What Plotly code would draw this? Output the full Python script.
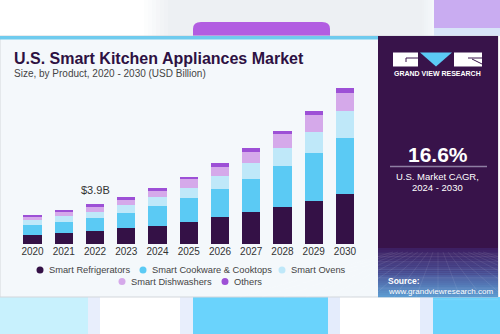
import plotly.graph_objects as go

# ---------------- data ----------------
years = ["2020", "2021", "2022", "2023", "2024", "2025", "2026", "2027", "2028", "2029", "2030"]
refrigerators = [0.94, 1.10, 1.30, 1.56, 1.82, 2.18, 2.63, 3.12, 3.67, 4.19, 4.94]
cookware = [0.91, 1.07, 1.30, 1.53, 1.88, 2.31, 2.73, 3.22, 3.93, 4.68, 5.46]
ovens = [0.49, 0.55, 0.58, 0.71, 0.88, 1.01, 1.30, 1.56, 1.79, 2.11, 2.60]
dishwashers = [0.36, 0.42, 0.49, 0.55, 0.62, 0.84, 0.91, 1.14, 1.33, 1.59, 1.79]
others = [0.13, 0.16, 0.23, 0.26, 0.26, 0.26, 0.36, 0.32, 0.36, 0.42, 0.45]
series_names = ["Smart Refrigerators", "Smart Cookware & Cooktops", "Smart Ovens",
                "Smart Dishwashers", "Others"]
series_values = [refrigerators, cookware, ovens, dishwashers, others]
series_colors = ["#341146", "#5bcaf4", "#bfe8f9", "#d5a9ea", "#9d50d6"]
callout_year = "2022"
callout_text = "$3.9B"

W, H = 500, 334
FONT = "Liberation Sans, Arial, sans-serif"


def X(px):
    return px / W


def Y(py):
    return 1 - py / H


shapes = []
annotations = []


def rect(x0, y0, x1, y1, color, layer="below", line=None):
    shapes.append(dict(type="rect", xref="paper", yref="paper", x0=X(x0), x1=X(x1),
                       y0=Y(y1), y1=Y(y0), fillcolor=color, layer=layer,
                       line=line or dict(width=0)))


def seg(x0, y0, x1, y1, color, width=1, layer="below"):
    shapes.append(dict(type="line", xref="paper", yref="paper", x0=X(x0), x1=X(x1),
                       y0=Y(y0), y1=Y(y1), line=dict(color=color, width=width), layer=layer))


def text(x, y, s, size, color, bold=False, xanchor="left", family=FONT):
    annotations.append(dict(x=X(x), y=Y(y), xref="paper", yref="paper", text=s,
                            showarrow=False, xanchor=xanchor, yanchor="middle",
                            font=dict(size=size, color=color, family=family,
                                      weight="bold" if bold else "normal")))


def mix(c1, c2, t):
    a = [int(c1[i:i + 2], 16) for i in (1, 3, 5)]
    b = [int(c2[i:i + 2], 16) for i in (1, 3, 5)]
    return "#%02x%02x%02x" % tuple(round(a[k] + (b[k] - a[k]) * t) for k in range(3))


# ---------------- blurred background around the card ----------------
rect(0, 0, 500, 36, "#ffffff")
for i in range(8):
    t = i / 7
    rect(140 + i * 4, 0, 144 + i * 4, 36, mix("#ffffff", "#edf0f3", t))
rect(172, 0, 420, 36, "#edf0f3")
for i in range(8):
    t = i / 7
    rect(420 + i * 2, 0, 422 + i * 2, 36, mix("#edf0f3", "#f5f9fc", t))
rect(434, 0, 500, 28, "#c9acf1")
rect(434, 28, 500, 36, "#d8e4f8")
shapes.append(dict(type="path", xref="paper", yref="paper", layer="below",
                   path="M %f,%f L %f,%f Q %f,%f %f,%f L %f,%f Q %f,%f %f,%f L %f,%f Z" % (
                       X(193), Y(36), X(193), Y(29), X(193), Y(22), X(201), Y(22),
                       X(322), Y(22), X(330), Y(22), X(330), Y(29), X(330), Y(36)),
                   fillcolor="#b25de1", line=dict(width=0)))

rect(0, 297, 500, 334, "#ffffff")
rect(0, 297, 88, 334, "#c8f1fd")
rect(88, 297, 100, 334, "#e8eefc")
rect(180, 297, 193, 334, "#e8eefc")
rect(193, 297, 328, 334, "#6ad3fc")
rect(328, 297, 340, 334, "#e4ecfc")
rect(420, 297, 433, 334, "#e4ecfc")
rect(433, 297, 500, 334, "#6ad3fc")

# ---------------- card ----------------
rect(0, 36, 498, 297, "#f4f8fb", line=dict(color="#d3d7db", width=1))
rect(0, 36, 378, 39.5, "#6fcbee")

# right panel
rect(378, 36, 498, 297, "#38134a")
band_top, band_bot = 248, 297
n = 24
for i in range(n):
    t = i / (n - 1)
    c = mix("#3d1f62", "#4a4d93", min(1, t * 2.2)) if t < 0.45 else mix("#4a4d93", "#5c9ad0", (t - 0.45) / 0.55)
    y0 = band_top + (band_bot - band_top) * i / n
    y1 = band_top + (band_bot - band_top) * (i + 1) / n
    rect(378, y0, 498, y1 + 0.3, c)
# perspective grid
for k in range(7):
    yy = 254 + (k ** 1.6) * 2.6
    seg(378, yy, 498, yy, "rgba(255,255,255,0.13)", 0.7)
for k in range(-9, 10):
    seg(438 + k * 5, 252, 438 + k * 22, 297, "rgba(255,255,255,0.12)", 0.7)

# logo
rect(393, 52.5, 418, 66.5, "#ffffff")
seg(406, 58, 418, 58, "#38134a", 1)
seg(406, 58, 406, 62, "#38134a", 1)
shapes.append(dict(type="path", xref="paper", yref="paper", layer="below",
                   path="M %f,%f L %f,%f L %f,%f Z" % (X(420), Y(52.5), X(452), Y(52.5), X(436), Y(66.5)),
                   fillcolor="#5bcaf4", line=dict(width=0)))
rect(454, 52.5, 482, 66.5, "#ffffff")
seg(468, 58, 482, 58, "#38134a", 1)
seg(472, 59, 482, 64, "#38134a", 1)
text(437.5, 73.5, "GRAND VIEW RESEARCH", 7, "#ffffff", bold=True, xanchor="center")

text(437.5, 154, "16.6%", 21, "#ffffff", bold=True, xanchor="center")
seg(390, 166.5, 487, 166.5, "#8e7ea3", 1.5)
text(437.5, 176.5, "U.S. Market CAGR,", 9.5, "#ffffff", xanchor="center")
text(437.5, 187, "2024 - 2030", 9.5, "#ffffff", xanchor="center")
text(386, 281, "Source:", 8.5, "#ffffff", bold=True)
text(386, 291, "www.grandviewresearch.com", 8, "#ffffff")

# titles
text(12, 58, "U.S. Smart Kitchen Appliances Market", 16, "#2d1142", bold=True)
text(12, 73, "Size, by Product, 2020 - 2030 (USD Billion)", 10, "#444444")

# legend (manual, circles)
legend_pos = [(40, 270), (143, 270), (282, 270), (122, 281.5), (225, 281.5)]
for (lx, ly), name, col in zip(legend_pos, series_names, series_colors):
    shapes.append(dict(type="circle", xref="paper", yref="paper", x0=X(lx - 3.5), x1=X(lx + 3.5),
                       y0=Y(ly + 3.5), y1=Y(ly - 3.5), fillcolor=col, line=dict(width=0)))
    text(lx + 7, ly, name, 9.3, "#444444")

# ---------------- bars ----------------
fig = go.Figure()
for name, vals, col in zip(series_names, series_values, series_colors):
    fig.add_trace(go.Bar(x=years, y=vals, name=name, marker=dict(color=col, line=dict(width=0)),
                         showlegend=False, hoverinfo="skip"))

totals = [sum(v) for v in zip(*series_values)]
ci = years.index(callout_year)
annotations.append(dict(x=ci, y=totals[ci], xref="x", yref="y", text=callout_text,
                        showarrow=False, yanchor="bottom", yshift=6,
                        font=dict(size=11, color="#333333", family=FONT)))

fig.update_layout(
    width=W, height=H, margin=dict(l=0, r=0, t=0, b=0, autoexpand=False),
    paper_bgcolor="#ffffff", plot_bgcolor="rgba(0,0,0,0)",
    barmode="stack", bargap=0.42,
    showlegend=False,
    shapes=shapes, annotations=annotations,
    xaxis=dict(domain=[X(16.9), X(360.6)], type="category", range=[-0.5, len(years) - 0.5],
               autorange=False, showgrid=False, zeroline=False,
               showline=False, ticks="", tickfont=dict(size=10, color="#333333", family=FONT),
               fixedrange=True),
    yaxis=dict(domain=[Y(244.3), Y(80.1)], range=[0, 16], autorange=False, visible=False,
               fixedrange=True),
)

fig.write_html("out.html")
